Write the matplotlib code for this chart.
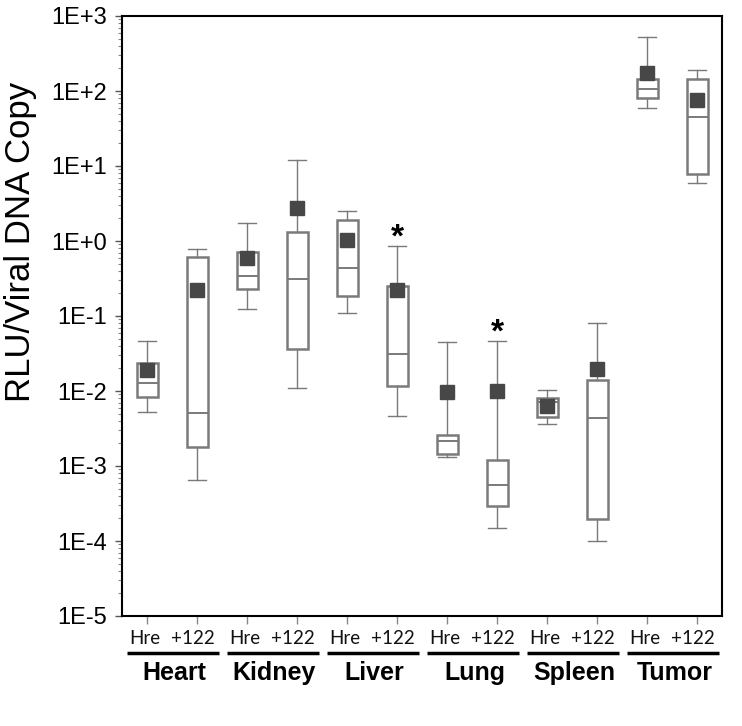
import numpy as np
import matplotlib
matplotlib.use('Agg')
import matplotlib.pyplot as plt
from matplotlib.ticker import LogLocator, FuncFormatter, NullFormatter
import matplotlib.transforms as mtransforms

# DATOS
tejidos = ['Heart', 'Kidney', 'Liver', 'Lung', 'Spleen', 'Tumor']
grupos = ['Hre', '+122']

whis_lo = [0.0052, 0.00065, 0.123, 0.0109, 0.109, 0.0046,
           0.00132, 0.000148, 0.0036, 0.0001, 58.7, 5.9]
q1 = [0.0084, 0.0018, 0.229, 0.036, 0.187, 0.0117,
      0.00143, 0.000296, 0.00446, 0.000197, 80.6, 7.9]
mediana = [0.0126, 0.0051, 0.345, 0.315, 0.43, 0.031,
           0.00218, 0.00055, 0.0072, 0.0043, 107, 45.5]
q3 = [0.0238, 0.61, 0.71, 1.31, 1.92, 0.249,
      0.00262, 0.00119, 0.0081, 0.0139, 146, 143]
whis_hi = [0.046, 0.78, 1.72, 11.9, 2.49, 0.85,
           0.0446, 0.046, 0.0102, 0.08, 520, 189]
media = [0.019, 0.22, 0.59, 2.73, 1.02, 0.22,
         0.0096, 0.0099, 0.0064, 0.0196, 175, 75]

# grupos con diferencia significativa (indice de caja)
significativos = [5, 7]

posiciones = np.arange(1, len(q1) + 1)

stats = []
for i in range(len(q1)):
    stats.append({
        'whislo': whis_lo[i], 'q1': q1[i], 'med': mediana[i],
        'q3': q3[i], 'whishi': whis_hi[i], 'mean': media[i], 'fliers': []
    })

gris = '#7a7a7a'

fig = plt.figure(figsize=(7.42, 7.26), dpi=100)
ax = fig.add_axes([122 / 742, 110 / 726, 600 / 742, 600 / 726])

ax.bxp(stats, positions=posiciones, widths=0.42, capwidths=0.36,
       showmeans=True, patch_artist=True,
       boxprops=dict(facecolor='white', edgecolor=gris, linewidth=1.8),
       medianprops=dict(color=gris, linewidth=1.4),
       whiskerprops=dict(color=gris, linewidth=1.0),
       capprops=dict(color=gris, linewidth=1.0),
       meanprops=dict(marker='s', markersize=10, markerfacecolor='#474747',
                      markeredgecolor='#474747'))

ax.set_yscale('log')
ax.set_ylim(1e-5, 1e3)
ax.set_xlim(0.5, 12.5)

# Ejes y ticks
ax.yaxis.set_major_locator(LogLocator(base=10, numticks=20))
ax.yaxis.set_minor_locator(LogLocator(base=10, subs=np.arange(2, 10), numticks=20))
ax.yaxis.set_minor_formatter(NullFormatter())
ax.yaxis.set_major_formatter(FuncFormatter(lambda v, p: f'1E{int(round(np.log10(v))):+d}'))
ax.tick_params(axis='y', which='major', length=5, width=1, color='#555555',
               labelsize=17, pad=6)
ax.tick_params(axis='y', which='minor', length=3, width=0.8, color='#888888')
ax.set_xticks(posiciones)
ax.set_xticklabels([])
ax.tick_params(axis='x', length=6, width=1, color='#888888')
for lab in ax.get_yticklabels():
    lab.set_family('Liberation Sans')

for s in ax.spines.values():
    s.set_linewidth(1.5)
    s.set_color('black')

ax.set_ylabel('RLU/Viral DNA Copy', fontsize=25, family='Liberation Sans')
ax.yaxis.set_label_coords(-0.142, 0.623)

# Asteriscos de significancia
for i in significativos:
    ax.annotate('*', xy=(posiciones[i], whis_hi[i]), xytext=(0, -5),
                textcoords='offset points', ha='center', va='bottom',
                fontsize=24, fontweight='bold', family='Liberation Sans')

# Etiquetas inferiores: grupo y tejido
trans = mtransforms.blended_transform_factory(ax.transData, ax.transAxes)
for j, tejido in enumerate(tejidos):
    centro = posiciones[2 * j] + 0.5
    ax.text(posiciones[2 * j] - 0.05, -0.038, grupos[0], transform=trans,
            ha='center', va='center', fontsize=13.5, family='Lato', color='#111111')
    ax.text(posiciones[2 * j + 1] - 0.08, -0.038, grupos[1], transform=trans,
            ha='center', va='center', fontsize=13.5, family='Lato', color='#111111')
    ax.plot([centro - 0.9, centro + 0.94], [-0.062, -0.062], transform=trans,
            color='black', linewidth=2.5, clip_on=False, solid_capstyle='butt')
    ax.text(centro + 0.05, -0.095, tejido, transform=trans, ha='center', va='center',
            fontsize=18, fontweight='bold', family='Liberation Sans')

plt.savefig('out.png', dpi=100)
plt.close()
